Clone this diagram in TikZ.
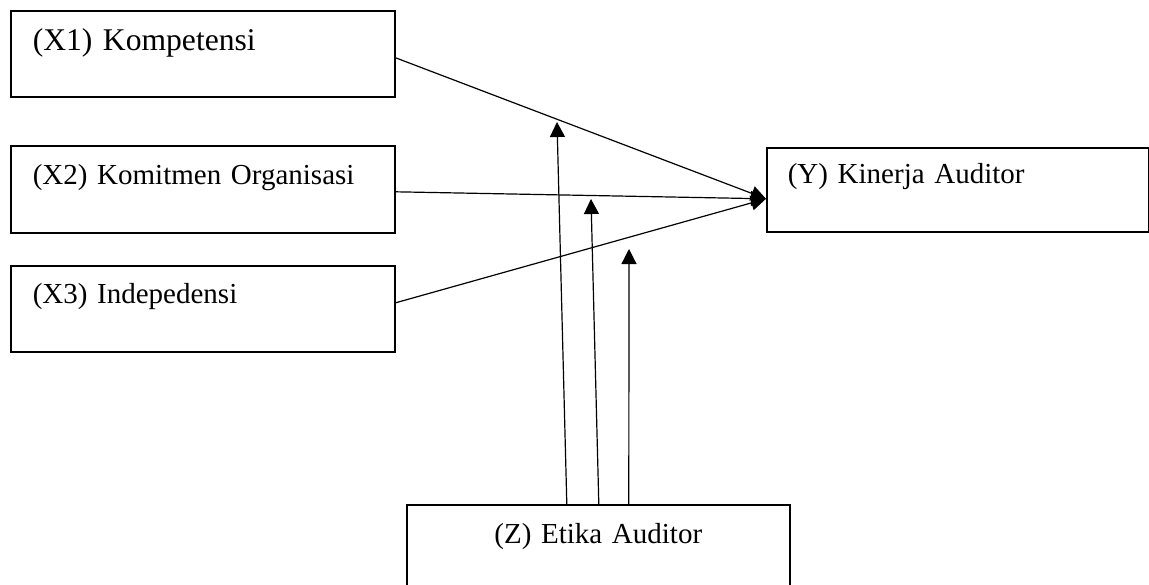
\documentclass[tikz,border=0pt]{standalone}
\usepackage{fontspec}
\setmainfont{Liberation Serif}
\usetikzlibrary{arrows.meta,calc}
\begin{document}
\begin{tikzpicture}[x=0.5pt, y=-0.5pt, >={Triangle[width=7.5pt,length=7.5pt]},
  box/.style={draw, line width=0.8pt, anchor=north west, inner ysep=0pt, align=left, font=\fontsize{14.5}{17}\selectfont},
  varbox/.style={box, inner xsep=11pt, text width=170pt},
  link/.style={->, line width=0.6pt},
]
  \useasboundingbox (0,0) rectangle (1149,584);
  \node[varbox, font=\fontsize{15.8}{19}\selectfont, text height=20pt, text depth=23pt] (x1) at (10,10) {(X1) Kompetensi};
  \node[varbox, text height=19.5pt, text depth=24pt] (x2) at (10,145) {(X2) Komitmen Organisasi};
  \node[varbox, text height=19pt, text depth=24pt] (x3) at (10,265) {(X3) Indepedensi};
  \node[box, inner xsep=10.5pt, text width=170pt, text height=18pt, text depth=24pt] (ky) at (766,147) {(Y) Kinerja Auditor};
  \node[box, align=center, inner xsep=0pt, text width=191.5pt, text height=19.5pt, text depth=23.5pt] (ez) at (406,504) {(Z) Etika Auditor};
  \coordinate (kin) at ($(ky.west)+(0,9)$);
  \coordinate (m1) at (557,122);
  \coordinate (m2) at (591,199);
  \coordinate (m3) at (629,249);
  \draw[link] ($(x1.east)+(0,4)$) -- (kin);
  \draw[link] ($(x2.east)+(0,2.5)$) -- (kin);
  \draw[link] ($(x3.east)+(0,-6)$) -- (kin);
  \draw[link] ($(ez.north)+(-31.5,0)$) -- (m1);
  \draw[link] ($(ez.north)+(0.5,0)$) -- (m2);
  \draw[link] ($(ez.north)+(30.5,0)$) -- (m3);
\end{tikzpicture}
\end{document}
